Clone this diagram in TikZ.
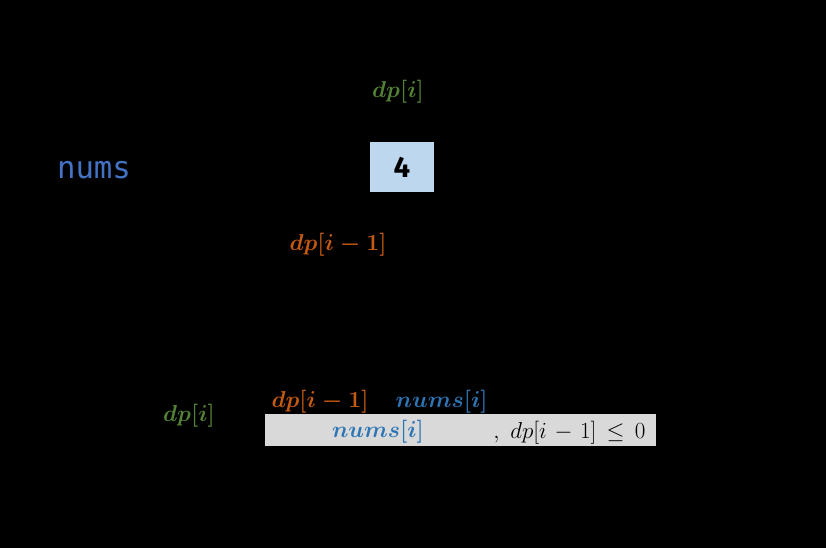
\documentclass[tikz,border=0pt]{standalone}
\usepackage{amsmath}
\usepackage{fontspec}
\usetikzlibrary{positioning}
\newfontfamily\cellfont{Fira Sans}
\newfontfamily\codefont{DejaVu Sans Mono}
\definecolor{dpgreen}{RGB}{84,130,53}
\definecolor{dporange}{RGB}{197,90,17}
\definecolor{numblue}{RGB}{46,117,182}
\definecolor{labblue}{RGB}{68,114,196}
\definecolor{cellblue}{RGB}{189,215,238}
\definecolor{condgrey}{RGB}{217,217,217}
\tikzset{
  mathtext/.style={inner sep=1pt, font=\fontsize{17}{20}\selectfont},
  cell/.style={fill=cellblue, minimum width=48pt, minimum height=37.5pt, inner sep=0pt,
    font=\cellfont\bfseries\fontsize{22}{24}\selectfont},
  condbox/.style={fill=condgrey, minimum width=293.25pt, minimum height=24pt, inner sep=0pt}
}

\begin{document}
\begin{tikzpicture}[x=0.75pt, y=-0.75pt]

  \fill[black] (0,0) rectangle (826,548);
  \useasboundingbox (0,0) rectangle (826,548);

  \node[font=\codefont\fontsize{23}{26}\selectfont, text=labblue] (numslab) at (94,170) {nums};
  \node[cell] (box4) at (402,167) {4};

  \node[mathtext, text=dpgreen] (dptop) at (398,92) {$\boldsymbol{dp[i]}$};
  \node[mathtext, text=dporange] (dpprev) at (338,245) {$\boldsymbol{dp[i-1]}$};

  % case split
  \node[condbox] (cond) at (460.5,430) {};
  \node[mathtext, text=dpgreen] (dpres) at (189,416) {$\boldsymbol{dp[i]}$};
  \node[mathtext, text=dporange] (caseprev) at (320,402) {$\boldsymbol{dp[i-1]}$};
  \node[mathtext, text=numblue, right=18pt of caseprev] (casenum) {$\boldsymbol{nums[i]}$};

  \node[mathtext, text=numblue] (condnum) at (378,432) {$\boldsymbol{nums[i]}$};
  \node[mathtext, text=black, anchor=east] (condtxt) at (647,433) {$,\ dp[i\mkern2mu-\mkern2mu1]\,\le\,0$};

\end{tikzpicture}
\end{document}
